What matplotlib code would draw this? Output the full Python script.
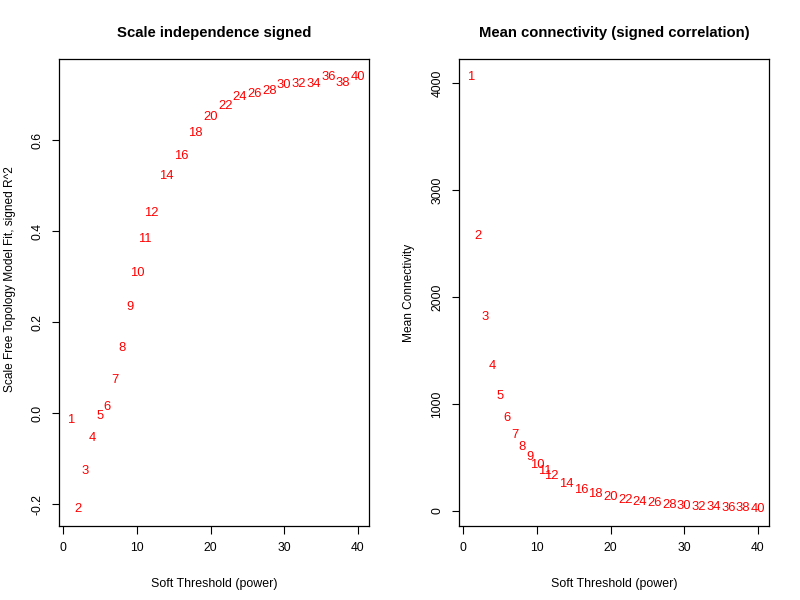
import numpy as np
import matplotlib
matplotlib.use("Agg")
import matplotlib.pyplot as plt

plt.rcParams['font.family'] = ['Liberation Sans', 'DejaVu Sans']

# soft-threshold powers and the fit results
powers = [1, 2, 3, 4, 5, 6, 7, 8, 9, 10, 11, 12,
          14, 16, 18, 20, 22, 24, 26, 28, 30, 32, 34, 36, 38, 40]
signed_r2 = [-0.014, -0.210, -0.127, -0.054, -0.007, 0.013, 0.073, 0.144,
             0.233, 0.308, 0.382, 0.440, 0.522, 0.566, 0.615, 0.651,
             0.676, 0.696, 0.702, 0.709, 0.721, 0.724, 0.724, 0.740,
             0.725, 0.738]
mean_k = [4064, 2568, 1810, 1359, 1071, 866, 711, 595, 501, 426, 374, 327,
          249, 193, 155, 127, 99, 84, 75, 56, 47, 34, 34, 24, 24, 19]

x_ticks = [0, 10, 20, 30, 40]
left_yticks = [-0.2, 0.0, 0.2, 0.4, 0.6]
left_ylabels = ['-0.2', '0.0', '0.2', '0.4', '0.6']
right_yticks = [0, 1000, 2000, 3000, 4000]


def r_range(vals):
    lo, hi = min(vals), max(vals)
    d = (hi - lo) * 0.04
    return lo - d, hi + d


fig = plt.figure(figsize=(8, 6), dpi=100)
ax1 = fig.add_axes([0.074, 0.1233, 0.3875, 0.778])
ax2 = fig.add_axes([0.574, 0.1233, 0.3875, 0.778])

panels = [
    (ax1, signed_r2, "Scale independence signed",
     "Scale Free Topology Model Fit, signed R^2", left_yticks, left_ylabels),
    (ax2, mean_k, "Mean connectivity (signed correlation)",
     "Mean Connectivity", right_yticks, [str(t) for t in right_yticks]),
]

for ax, vals, title, ylab, yt, ytl in panels:
    for p, v in zip(powers, vals):
        ax.text(p, v, str(p), color='red', fontsize=9.4, ha='center', va='center')
    ax.set_xlim(r_range(powers))
    ax.set_ylim(r_range(vals))
    ax.set_xticks(x_ticks)
    ax.set_yticks(yt)
    ax.set_yticklabels(ytl, rotation=90, va='center')
    ax.tick_params(length=5.4, width=0.8, labelsize=8.7)
    ax.tick_params(axis='x', pad=6)
    ax.tick_params(axis='y', pad=6)
    for s in ax.spines.values():
        s.set_linewidth(0.9)
    ax.set_title(title, fontsize=10.7, fontweight='bold', pad=16)
    ax.set_xlabel("Soft Threshold (power)", fontsize=8.9)
    ax.xaxis.set_label_coords(0.5, -0.111)
    ax.set_ylabel(ylab, fontsize=8.6, va='center')

ax1.yaxis.set_label_coords(-0.159, 0.528)
ax2.yaxis.set_label_coords(-0.162, 0.5)

fig.savefig("out.png", dpi=100)
